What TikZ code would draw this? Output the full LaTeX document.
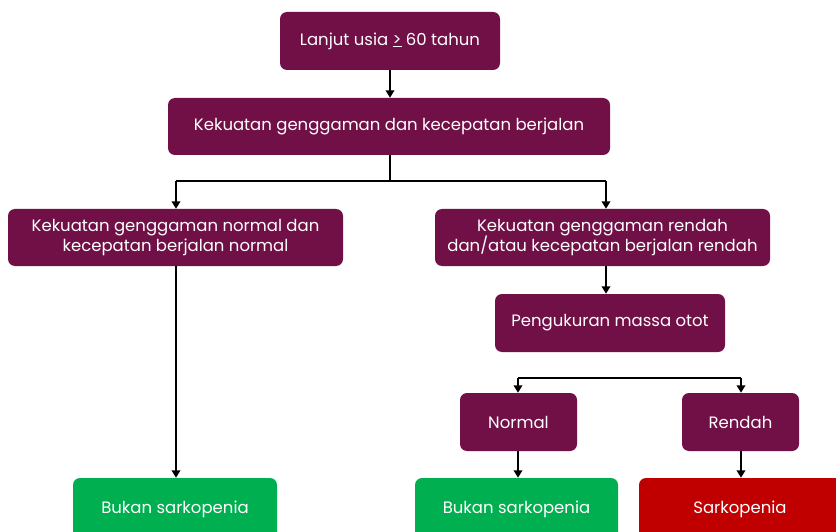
\documentclass[tikz,border=0pt]{standalone}
\usepackage{fontspec}
\setmainfont{Poppins}
\usetikzlibrary{arrows.meta}
\definecolor{plum}{HTML}{701046}
\definecolor{okgreen}{HTML}{00B050}
\definecolor{alarmred}{HTML}{C00000}
\newcommand{\boxfont}{\fontsize{16.5}{20.5}\selectfont}
\tikzset{
  box/.style={rounded corners=7pt, inner sep=0pt, align=center, text=white,
    font=\boxfont},
  stage/.style={box, fill=plum},
  good/.style={box, fill=okgreen},
  bad/.style={box, fill=alarmred},
  label/.style={font=\boxfont, text=white, inner sep=0pt},
  link/.style={line width=2pt, -{Triangle[length=7.5pt,width=8.5pt]}},
  bar/.style={line width=2pt},
}
\begin{document}
\begin{tikzpicture}[x=1pt,y=-1pt]
\useasboundingbox (0,0) rectangle (836,532);
\clip (0,0) rectangle (836,532);
\fill[white] (0,0) rectangle (836,532);

% decision boxes
\node[stage, minimum width=220pt, minimum height=58pt] (age) at (390,41) {Lanjut usia \underline{>} 60 tahun};
\node[stage, minimum width=442pt, minimum height=57pt] (test) at (389,126.5) {Kekuatan genggaman dan kecepatan berjalan};
\node[stage, minimum width=335pt, minimum height=57pt] (ok) at (175.5,237.5) {Kekuatan genggaman normal dan\\kecepatan berjalan normal};
\node[stage, minimum width=335pt, minimum height=57pt] (low) at (602.5,237.5) {Kekuatan genggaman rendah\\dan/atau kecepatan berjalan rendah};
\node[stage, minimum width=230pt, minimum height=58pt] (mass) at (610,323) {Pengukuran massa otot};
\node[stage, minimum width=117pt, minimum height=58pt] (mnorm) at (518.5,422) {Normal};
\node[stage, minimum width=117pt, minimum height=58pt] (mlow) at (740.5,422) {Rendah};

% outcomes (run past the lower edge)
\node[good, minimum width=204pt, minimum height=66pt] (no1) at (175,511) {};
\node[label] (no1t) at (175,509) {Bukan sarkopenia};
\node[good, minimum width=203pt, minimum height=66pt] (no2) at (516.5,511) {};
\node[label] (no2t) at (516.5,509) {Bukan sarkopenia};
\node[bad, minimum width=220pt, minimum height=66pt] (yes) at (749,511) {};
\node[label] (yest) at (740,509) {Sarkopenia};

% junction points
\coordinate (j1) at (390,181);
\coordinate (j1l) at (176,181);
\coordinate (j1r) at (606,181);
\coordinate (j2l) at (518,378);
\coordinate (j2r) at (741,378);

% connectors
\draw[link] (age.south) -- (age.south |- test.north);
\draw[bar] (test.south -| j1) -- (j1);
\draw[bar] (j1l) -- (j1r);
\draw[link] (j1l) -- (j1l |- ok.north);
\draw[link] (j1r) -- (j1r |- low.north);
\draw[link] (ok.south -| j1l) -- (j1l |- no1.north);
\draw[link] (low.south -| j1r) -- (j1r |- mass.north);
\draw[bar] (j2l) -- (j2r);
\draw[link] (j2l) -- (j2l |- mnorm.north);
\draw[link] (j2r) -- (j2r |- mlow.north);
\draw[link] (mnorm.south -| j2l) -- (j2l |- no2.north);
\draw[link] (mlow.south -| j2r) -- (j2r |- yes.north);
\end{tikzpicture}
\end{document}
